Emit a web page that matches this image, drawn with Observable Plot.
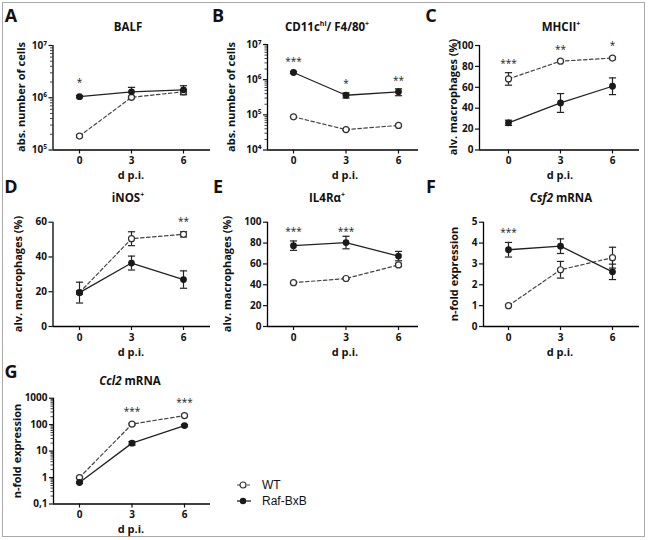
<!DOCTYPE html>
<html><head><meta charset="utf-8">
<script src="https://cdn.jsdelivr.net/npm/d3@7"></script>
<script src="https://cdn.jsdelivr.net/npm/@observablehq/plot@0.6"></script>
<style>
body{margin:0;background:#fff;}
#fig{position:relative;width:648px;height:540px;overflow:hidden;font-family:"Open Sans",sans-serif;color:#111;}
#frame{position:absolute;left:2px;top:2px;width:643px;height:535px;border:1.5px solid #a9a9a9;box-sizing:border-box;}
#fig svg.plt{position:absolute;left:0;top:0;}
.lbl{position:absolute;transform:translate(-50%,-50%);white-space:nowrap;font-weight:700;}
.letter{position:absolute;transform:translate(-50%,-50%);font-weight:700;font-size:18px;}
.title{font-size:11.5px;}
.xlab{font-size:11px;}
.ylab{font-size:11px;transform:translate(-50%,-50%) rotate(-90deg);}
sup{font-size:7px;vertical-align:5px;line-height:0;}
#legend{position:absolute;left:234px;top:477px;font-family:"Liberation Sans",Arial,sans-serif;font-size:12px;line-height:16px;}
#legend div{display:flex;align-items:center;}
#legend svg{margin-right:10px;}
</style>
</head><body>
<div id="fig"><div id="frame"></div></div>
<script>
// ---------- data ----------
const days = [0, 3, 6];
const groups = ["WT", "Raf-BxB"];

// A: BALF (abs. number of cells)
const balfWT = [1.85e5, 1.02e6, 1.3e6];
const balfWTsem = [0.1e5, 0.05e6, 0.12e6];
const balfRaf = [1.05e6, 1.3e6, 1.42e6];
const balfRafSem = [0.05e6, 0.28e6, 0.28e6];
const balfStars = ["*", "", ""];
const balfStarLevel = [2.1e6, null, null];

// B: CD11c hi / F4/80+
const cdWT = [8.8e4, 3.8e4, 5.0e4];
const cdWTsem = [0.3e4, 0.2e4, 0.3e4];
const cdRaf = [1.6e6, 3.6e5, 4.5e5];
const cdRafSem = [0.1e6, 0.6e5, 1.0e5];
const cdStars = ["***", "*", "**"];
const cdStarLevel = [3.7e6, 8.8e5, 1.07e6];

// C: MHCII+
const mhcWT = [68, 85, 88];
const mhcWTsem = [6, 1, 1];
const mhcRaf = [26, 45, 61];
const mhcRafSem = [2.5, 9, 8];
const mhcStars = ["***", "**", "*"];
const mhcStarLevel = [84, 98, 102];

// D: iNOS+
const inosWT = [19.5, 50.5, 53];
const inosWTsem = [1, 4, 1.5];
const inosRaf = [19.5, 36.5, 27];
const inosRafSem = [6, 4, 5];
const inosStars = ["", "", "**"];
const inosStarLevel = [null, null, 61.5];

// E: IL4Ra+
const il4WT = [42, 46, 59];
const il4WTsem = [0.8, 0.8, 1.5];
const il4Raf = [77.5, 80.5, 67.5];
const il4RafSem = [4.5, 6, 4.5];
const il4Stars = ["***", "***", ""];
const il4StarLevel = [93, 93, null];

// F: Csf2 mRNA
const csfWT = [1.0, 2.72, 3.3];
const csfWTsem = [0.05, 0.4, 0.5];
const csfRaf = [3.68, 3.85, 2.62];
const csfRafSem = [0.35, 0.35, 0.37];
const csfStars = ["***", "", ""];
const csfStarLevel = [4.6, null, null];

// G: Ccl2 mRNA
const cclWT = [1.0, 105, 220];
const cclWTsem = [0.05, 8, 20];
const cclRaf = [0.65, 20, 92];
const cclRafSem = [0.05, 3, 8];
const cclStars = ["", "***", "***"];
const cclStarLevel = [null, 360, 790];

// tick values
const cellTicks = [1e5, 1e6, 1e7];
const cellTicksB = [1e4, 1e5, 1e6, 1e7];
const pct100Ticks = [0, 20, 40, 60, 80, 100];
const pct60Ticks = [0, 20, 40, 60];
const foldTicks = [0, 1, 2, 3, 4, 5];
const logFoldTicks = [0.1, 1, 10, 100, 1000];

// ---------- helpers ----------
const supDigits = {"0":"\u2070","1":"\u00b9","2":"\u00b2","3":"\u00b3","4":"\u2074","5":"\u2075","6":"\u2076","7":"\u2077","8":"\u2078","9":"\u2079"};
const pow10 = d => "10" + String(Math.round(Math.log10(d))).split("").map(c => supDigits[c]).join("");
const commaFmt = d => String(d).replace(".", ",");
function minorLog(lo, hi) {
  const out = [];
  for (let e = Math.round(Math.log10(lo)); e < Math.round(Math.log10(hi)); e++)
    for (let k = 2; k <= 9; k++) out.push(k * Math.pow(10, e));
  return out;
}
const cap = {draw(ctx, size) { const r = Math.sqrt(size / Math.PI); ctx.moveTo(-r, 0); ctx.lineTo(r, 0); }};

const fig = document.getElementById("fig");

function panel(cfg) {
  const {axisX, axisRight, x0, x6, yTop, yBottom, yType, yDomain, yTicks, yFmt, minor,
         wt, wtSem, raf, rafSem, stars, starLevel} = cfg;
  const unit = (x6 - x0) / 6;
  const xDomain = [(axisX - x0) / unit, (axisRight - x0) / unit];
  const rows = (m, s, g) => days.map((d, i) => ({d, m: m[i], lo: m[i] - s[i], hi: m[i] + s[i], g}));
  const W = rows(wt, wtSem, groups[0]);
  const R = rows(raf, rafSem, groups[1]);
  const st = days.map((d, i) => ({d, t: stars[i], y: starLevel[i]})).filter(o => o.t);
  const marks = [
    Plot.ruleX([xDomain[0]], {stroke: "#000", strokeWidth: 1.3}),
    Plot.ruleY([yDomain[0]], {stroke: "#000", strokeWidth: 1.3}),
    Plot.axisX(days, {tickSize: 4, tickPadding: 3, label: null, tickFormat: d => String(d), strokeWidth: 1.2}),
    Plot.axisY(yTicks, {tickSize: 4, tickPadding: 2, label: null, tickFormat: yFmt, strokeWidth: 1.2})
  ];
  if (minor) marks.push(Plot.axisY(minor, {tickSize: 2.5, tickFormat: () => "", label: null, strokeWidth: 0.8}));
  for (const S of [W, R]) {
    marks.push(Plot.ruleX(S, {x: "d", y1: "lo", y2: "hi", stroke: "#222", strokeWidth: 1.2}));
    marks.push(Plot.dot(S, {x: "d", y: "hi", symbol: cap, r: 3.6, fill: "none", stroke: "#222", strokeWidth: 1.2}));
    marks.push(Plot.dot(S, {x: "d", y: "lo", symbol: cap, r: 3.6, fill: "none", stroke: "#222", strokeWidth: 1.2}));
  }
  marks.push(Plot.line(W, {x: "d", y: "m", stroke: "#444", strokeWidth: 1.2, strokeDasharray: "3.5,2.5"}));
  marks.push(Plot.line(R, {x: "d", y: "m", stroke: "#222", strokeWidth: 1.3}));
  marks.push(Plot.dot(W, {x: "d", y: "m", r: 3.0, fill: "white", stroke: "#333", strokeWidth: 1.2}));
  marks.push(Plot.dot(R, {x: "d", y: "m", r: 3.4, fill: "#1a1a1a", stroke: "none"}));
  marks.push(Plot.text(st, {x: "d", y: "y", text: "t", fontSize: 10, fontWeight: "normal", fill: "#222", dy: 2}));
  const svg = Plot.plot({
    width: 648, height: 540,
    marginLeft: axisX, marginRight: 648 - axisRight, marginTop: yTop, marginBottom: 540 - yBottom,
    x: {domain: xDomain},
    y: {type: yType, domain: yDomain},
    style: {fontFamily: "'Open Sans', sans-serif", fontSize: "10px", fontWeight: "bold", background: "transparent", color: "#111", overflow: "visible"},
    marks
  });
  svg.classList.add("plt");
  fig.appendChild(svg);
}

function html(cls, x, y, content) {
  const el = document.createElement("div");
  el.className = cls;
  el.style.left = x + "px";
  el.style.top = y + "px";
  el.innerHTML = content;
  fig.appendChild(el);
}

// ---------- panels ----------
const row1 = {yTop: 45, yBottom: 149.5};
const row2 = {yTop: 221.7, yBottom: 326};
const row3 = {yTop: 397.7, yBottom: 503.5};
const col1 = {axisX: 52.5, axisRight: 210, x0: 79, x6: 183};
const col2 = {axisX: 267, axisRight: 418, x0: 293, x6: 398};
const col3 = {axisX: 479, axisRight: 639, x0: 508, x6: 612};

panel({...row1, ...col1, yType: "log", yDomain: [1e5, 1e7], yTicks: cellTicks, yFmt: pow10, minor: minorLog(1e5, 1e7),
  wt: balfWT, wtSem: balfWTsem, raf: balfRaf, rafSem: balfRafSem, stars: balfStars, starLevel: balfStarLevel});
panel({...row1, ...col2, yTop: 44, yType: "log", yDomain: [1e4, 1e7], yTicks: cellTicksB, yFmt: pow10, minor: minorLog(1e4, 1e7),
  wt: cdWT, wtSem: cdWTsem, raf: cdRaf, rafSem: cdRafSem, stars: cdStars, starLevel: cdStarLevel});
panel({...row1, ...col3, yType: "linear", yDomain: [0, 100], yTicks: pct100Ticks, yFmt: d => String(d),
  wt: mhcWT, wtSem: mhcWTsem, raf: mhcRaf, rafSem: mhcRafSem, stars: mhcStars, starLevel: mhcStarLevel});
panel({...row2, ...col1, yType: "linear", yDomain: [0, 60], yTicks: pct60Ticks, yFmt: d => String(d),
  wt: inosWT, wtSem: inosWTsem, raf: inosRaf, rafSem: inosRafSem, stars: inosStars, starLevel: inosStarLevel});
panel({...row2, ...col2, yType: "linear", yDomain: [0, 100], yTicks: pct100Ticks, yFmt: d => String(d),
  wt: il4WT, wtSem: il4WTsem, raf: il4Raf, rafSem: il4RafSem, stars: il4Stars, starLevel: il4StarLevel});
panel({...row2, ...col3, axisX: 483, yType: "linear", yDomain: [0, 5], yTicks: foldTicks, yFmt: d => String(d),
  wt: csfWT, wtSem: csfWTsem, raf: csfRaf, rafSem: csfRafSem, stars: csfStars, starLevel: csfStarLevel});
panel({...row3, ...col1, axisX: 53, x6: 184, yType: "log", yDomain: [0.1, 1000], yTicks: logFoldTicks, yFmt: commaFmt, minor: minorLog(0.1, 1000),
  wt: cclWT, wtSem: cclWTsem, raf: cclRaf, rafSem: cclRafSem, stars: cclStars, starLevel: cclStarLevel});

// ---------- text ----------
const letters = [["A", 11, 15], ["B", 218, 15], ["C", 431, 15], ["D", 11, 186], ["E", 218, 186], ["F", 431, 186], ["G", 11, 371]];
letters.forEach(([t, x, y]) => html("letter", x, y, t));
const titles = [["BALF", 128, 26], ["CD11c<sup>hi</sup>/ F4/80<sup>+</sup>", 327, 26], ["MHCII<sup>+</sup>", 561, 26],
  ["iNOS<sup>+</sup>", 128, 197], ["IL4R\u03b1<sup>+</sup>", 327, 197], ["<i>Csf2</i> mRNA", 561, 197],
  ["<i>Ccl2</i> mRNA", 130, 380]];
titles.forEach(([t, x, y]) => html("lbl title", x, y, t));
const xl = [[131, 174], [345, 174], [560, 174], [131, 351], [345, 351], [560, 351], [131, 528]];
xl.forEach(([x, y]) => html("lbl xlab", x, y, "d p.i."));
const yl = [["abs. number of cells", 20, 97], ["abs. number of cells", 230, 97], ["alv. macrophages (%)", 452, 97],
  ["alv. macrophages (%)", 17, 274], ["alv. macrophages (%)", 226, 274], ["n-fold expression", 453, 274],
  ["n-fold expression", 16, 451]];
yl.forEach(([t, x, y]) => html("lbl ylab", x, y, t));

// legend
const leg = document.createElement("div");
leg.id = "legend";
leg.innerHTML =
  '<div><svg width="18" height="14"><line x1="3" x2="17" y1="7" y2="7" stroke="#444" stroke-width="1.2" stroke-dasharray="3,2"/><circle cx="9" cy="7" r="3" fill="#fff" stroke="#333" stroke-width="1.2"/></svg>' + groups[0] + '</div>' +
  '<div><svg width="18" height="14"><line x1="3" x2="17" y1="7" y2="7" stroke="#222" stroke-width="1.3"/><circle cx="9" cy="7" r="3.2" fill="#1a1a1a"/></svg>' + groups[1] + '</div>';
fig.appendChild(leg);
</script>
</body></html>
